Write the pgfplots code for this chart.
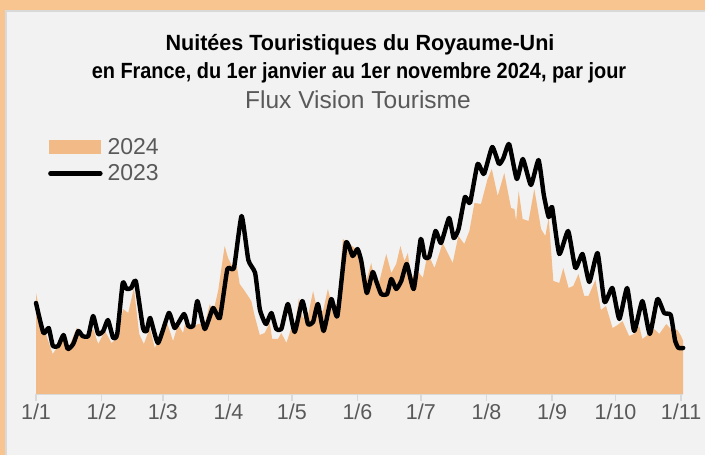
\documentclass[border=0pt]{standalone}
\usepackage{fontspec}
\setmainfont{Liberation Sans}
\usepackage{pgfplots}
\pgfplotsset{compat=1.18}
\definecolor{outerorange}{RGB}{248,196,143}
\definecolor{panelgray}{RGB}{242,242,242}
\definecolor{panelborder}{RGB}{217,217,217}
\definecolor{areaorange}{RGB}{241,186,135}
\definecolor{textgray}{RGB}{89,89,89}
\definecolor{tickgray}{RGB}{217,217,217}
\begin{document}
\begin{tikzpicture}[x=1pt,y=1pt]
\useasboundingbox (0,0) rectangle (705,455);
\fill[outerorange] (0,0) rectangle (705,455);
\fill[panelborder] (5,0) rectangle (705,445);
\fill[panelgray] (6.8,0) rectangle (705,443.2);
\node[font=\fontsize{22}{26}\selectfont\bfseries, text=black] at (360,410) {\scalebox{0.98}[1]{Nuitées Touristiques du Royaume-Uni}};
\node[font=\fontsize{22}{26}\selectfont\bfseries, text=black] at (359,382) {\scalebox{0.905}[1]{en France, du 1er janvier au 1er novembre 2024, par jour}};
\node[font=\fontsize{24.5}{28}\selectfont, text=textgray] at (358,355) {Flux Vision Tourisme};
\begin{axis}[
  at={(36pt,61pt)}, anchor=south west,
  scale only axis,
  width=647.2pt, height=264pt,
  xmin=0, xmax=306, ymin=0, ymax=264,
  enlargelimits=false,
  axis x line*=bottom,
  axis y line=none,
  x axis line style={draw=tickgray, line width=1.2pt, -},
  xtick={0,31,60,91,121,152,182,213,244,274,305},
  xticklabels={1/1,1/2,1/3,1/4,1/5,1/6,1/7,1/8,1/9,1/10,1/11},
  xticklabel style={font=\fontsize{21.5}{25}\selectfont, text=textgray, anchor=base, yshift=-19pt},
  tick align=outside,
  major tick length=7pt,
  x tick style={draw=tickgray, line width=1.2pt},
  ytick=\empty,
  clip=false,
  legend style={at={(rel axis cs:0,1)}, anchor=north west, xshift=9pt, yshift=-4pt,
    draw=none, fill=none, font=\fontsize{23}{27}\selectfont, text=textgray,
    row sep=5pt, nodes={inner sep=2pt},
    /tikz/every odd column/.append style={column sep=3pt}},
  legend cell align=left,
]
\addplot[fill=areaorange, draw=none,
  legend image code/.code={\fill[areaorange] (0pt,-7pt) rectangle (52pt,7pt);}]
coordinates {
(0,101)(2.7,73)(5.8,53)(7.9,40)(9.8,46)(12.9,56)(15.3,45)(19.2,66)(22.3,56)(25.5,60)
(27.1,65)(29.4,50)(32.6,63)(35.7,51)(38.4,56)(41.2,85)(43.6,81)(46.3,106)(48.8,60)(51,50)
(53.8,66)(56.2,46)(60.1,66)(61.7,73)(64.8,53)(67.2,70)(69.5,61)(71.1,76)(73.5,66)(76.6,70)
(79.8,70)(82.2,90)(83.7,81)(86.1,103)(89.2,148)(90.8,136)(92.7,128)(94.8,130)(96.3,110)(98.7,103)
(101.8,93)(103.4,78)(105.8,59)(108.1,61)(110.5,71)(111.7,55)(114.4,55)(116,61)(118.4,51)(120.7,66)
(122,61)(124.3,96)(126.2,76)(128.6,78)(131,103)(133.3,81)(135.7,83)(138,105)(140.4,85)(142.7,91)
(145.1,155)(148.3,150)(150.6,146)(153,143)(156.1,113)(158.5,131)(160.9,106)(162.4,113)(165.6,140)(168,121)
(170.3,130)(172.3,148)(174.2,133)(175.8,141)(177.4,116)(180.5,123)(182.9,116)(185.2,141)(188.4,126)(192.3,151)
(197,131)(199.7,158)(202.5,150)(204.9,163)(207.3,191)(210.4,190)(213.5,215)(215.5,225)(218.3,198)(221.4,221)
(224.6,186)(226.2,185)(227,173)(228.2,203)(230.1,175)(232.9,173)(235.6,205)(238.8,165)(240.8,158)(242.4,176)
(244.6,113)(247.4,111)(249.3,126)(251.8,106)(254,108)(256.5,120)(259.2,98)(261.2,98)(264.5,114)(267.1,84)
(269.5,88)(272.6,66)(275,69)(277.3,73)(280.4,58)(282.8,60)(285.2,68)(286.7,55)(288.6,58)(292.3,65)
(294.7,60)(298,70)(300.1,65)(303.3,64)(305,58)(306,53)
} \closedcycle;
\addlegendentry{2024}
\addplot[black, line width=4.4pt, line join=round, line cap=round, mark=none, smooth, tension=0.3,
  legend image code/.code={\draw[black, line width=4.4pt, line cap=round] (1pt,0pt) -- (51pt,0pt);}]
coordinates {
(0,91)(3.5,61)(6,66)(8,48)(10.5,48)(13,59)(15,45)(17.6,50)(20,63)(22,58)
(24.7,58)(27,78)(29.4,60)(31.8,63)(34,74)(36.5,56)(38.4,60)(41,111)(42.8,105)(45,106)
(47.2,113)(50.6,66)(52.3,63)(54,76)(57.7,51)(62.8,81)(65.6,66)(70,80)(72,68)(74.3,68)
(76.3,93)(79.8,65)(83.7,86)(86.9,76)(90.5,125)(93.6,126)(97.2,178)(100.4,134)(103.6,121)(105.8,85)
(107.8,73)(108.9,70)(111.3,81)(113.6,65)(116,65)(119.1,90)(122.3,62)(125.9,93)(128.6,70)(131,72)
(133.3,90)(136,63)(139.6,95)(142.5,78)(146.5,151)(149.7,138)(152,145)(153.8,133)(156.4,101)(159.2,122)
(161,112)(163.2,100)(166,100)(168,115)(170.3,105)(172.7,113)(175.3,130)(178.6,105)(181.9,155)(183.8,137)
(185.9,137)(188.9,163)(191.5,151)(195.3,176)(197.5,156)(199.8,165)(202.8,197)(205.2,191)(208.8,230)(211.8,220)
(215.7,247)(218.9,230)(221,236)(223.7,250)(227.3,215)(230.2,235)(234,209)(237.6,234)(240.1,199)(242.4,177)
(244,187)(247.4,140)(251.6,163)(255,126)(258.4,140)(261.6,112)(265.5,141)(268.8,92)(272.5,106)(275.8,75)
(279.5,106)(282.8,63)(286.7,93)(290.2,60)(293.8,95)(297,81)(300.1,79)(302.2,53)(303.8,46)(306,46)
};
\addlegendentry{2023}
\end{axis}
\end{tikzpicture}
\end{document}
